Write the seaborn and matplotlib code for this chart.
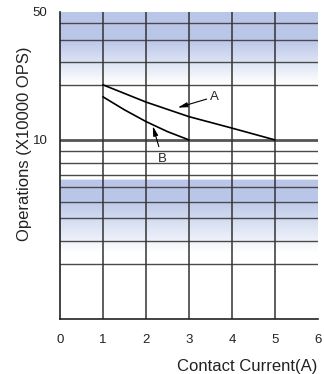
import numpy as np
import pandas as pd
import matplotlib
matplotlib.use("Agg")
import matplotlib.pyplot as plt
import seaborn as sns

# curve data
current_a = [1, 2, 3, 4, 5]
ops_a = [20.0, 16.1, 13.4, 11.6, 10.0]
current_b = [1, 1.5, 2, 2.5, 3]
ops_b = [17.2, 14.6, 12.6, 11.1, 10.0]

x_ticks = [0, 1, 2, 3, 4, 5, 6]
y_ticks = [10, 50]
h_grid = [43.5, 35.2, 26.7, 20, 8.7, 7.5, 6.4, 5.5, 4.6, 3.75, 2.8, 2.1]
v_grid = [1, 2, 3, 4, 5]

df = pd.concat([
    pd.DataFrame({"current": current_a, "ops": ops_a, "curve": "A"}),
    pd.DataFrame({"current": current_b, "ops": ops_b, "curve": "B"}),
])

sns.set_style("white")
plt.rcParams["font.family"] = ["Liberation Sans", "DejaVu Sans"]

ymin, ymax = 1.05, 50
fig = plt.figure(figsize=(3.24, 3.74), dpi=100)
ax = fig.add_axes([0.185, 0.147, 0.796, 0.821])
ax.set_yscale("log")
ax.set_xlim(0, 6)
ax.set_ylim(ymin, ymax)

# blue gradient bands as a background image in axes coordinates
blue = np.array([0.73, 0.78, 0.91])
f = np.linspace(0, 1, 400)
v = 10 ** (np.log10(ymin) + f * (np.log10(ymax) - np.log10(ymin)))
a = np.zeros_like(v)
top = (v >= 20) & (v <= 50)
a[top] = np.clip((np.log10(v[top]) - np.log10(20)) / (np.log10(35) - np.log10(20)), 0, 1)
low = (v >= 2.4) & (v <= 6.0)
a[low] = np.clip((np.log10(v[low]) - np.log10(2.4)) / (np.log10(4.7) - np.log10(2.4)), 0, 1)
img = (1 - a[:, None]) * np.ones(3) + a[:, None] * blue
ax.imshow(img[:, None, :], extent=(0, 1, 0, 1), transform=ax.transAxes,
          origin="lower", aspect="auto", zorder=0, interpolation="bilinear")

for y in h_grid:
    ax.axhline(y, color="#4a4a4a", lw=1.0, zorder=1)
ax.axhline(10, color="#555555", lw=2.0, zorder=1)
for x in v_grid:
    ax.axvline(x, color="#333333", lw=1.1, zorder=1)

sns.lineplot(data=df, x="current", y="ops", units="curve", estimator=None,
             color="black", lw=1.2, ax=ax, zorder=3)

ax.annotate("A", xy=(2.74, 15.0), xytext=(3.49, 17.2), fontsize=9.5,
            ha="left", va="center",
            arrowprops=dict(arrowstyle="-|>,head_length=0.6,head_width=0.15",
                            color="black", lw=0.8, shrinkA=0, shrinkB=0))
ax.annotate("B", xy=(2.16, 11.9), xytext=(2.28, 7.9), fontsize=9.5,
            ha="left", va="center",
            arrowprops=dict(arrowstyle="-|>,head_length=0.6,head_width=0.15",
                            color="black", lw=0.8, shrinkA=2, shrinkB=0))

ax.set_xticks(x_ticks)
ax.set_xticklabels([str(t) for t in x_ticks])
ax.set_yticks(y_ticks)
ax.set_yticklabels([str(t) for t in y_ticks])
ax.minorticks_off()
ax.tick_params(axis="both", length=0, labelsize=9.5, colors="#222222")
ax.tick_params(axis="x", pad=11)
ax.tick_params(axis="y", pad=9)

for s in ["top", "right"]:
    ax.spines[s].set_visible(False)
for s in ["left", "bottom"]:
    ax.spines[s].set_color("#222222")
    ax.spines[s].set_linewidth(1.2)

ax.set_xlabel("Contact Current(A)", fontsize=12, loc="right", labelpad=8, color="#222222")
ax.set_ylabel("Operations (X10000 OPS)", fontsize=12, color="#222222")
ax.yaxis.set_label_coords(-0.11, 0.57)
ax.xaxis.set_label_coords(1.0, -0.13)

fig.savefig("out.png", dpi=100)
